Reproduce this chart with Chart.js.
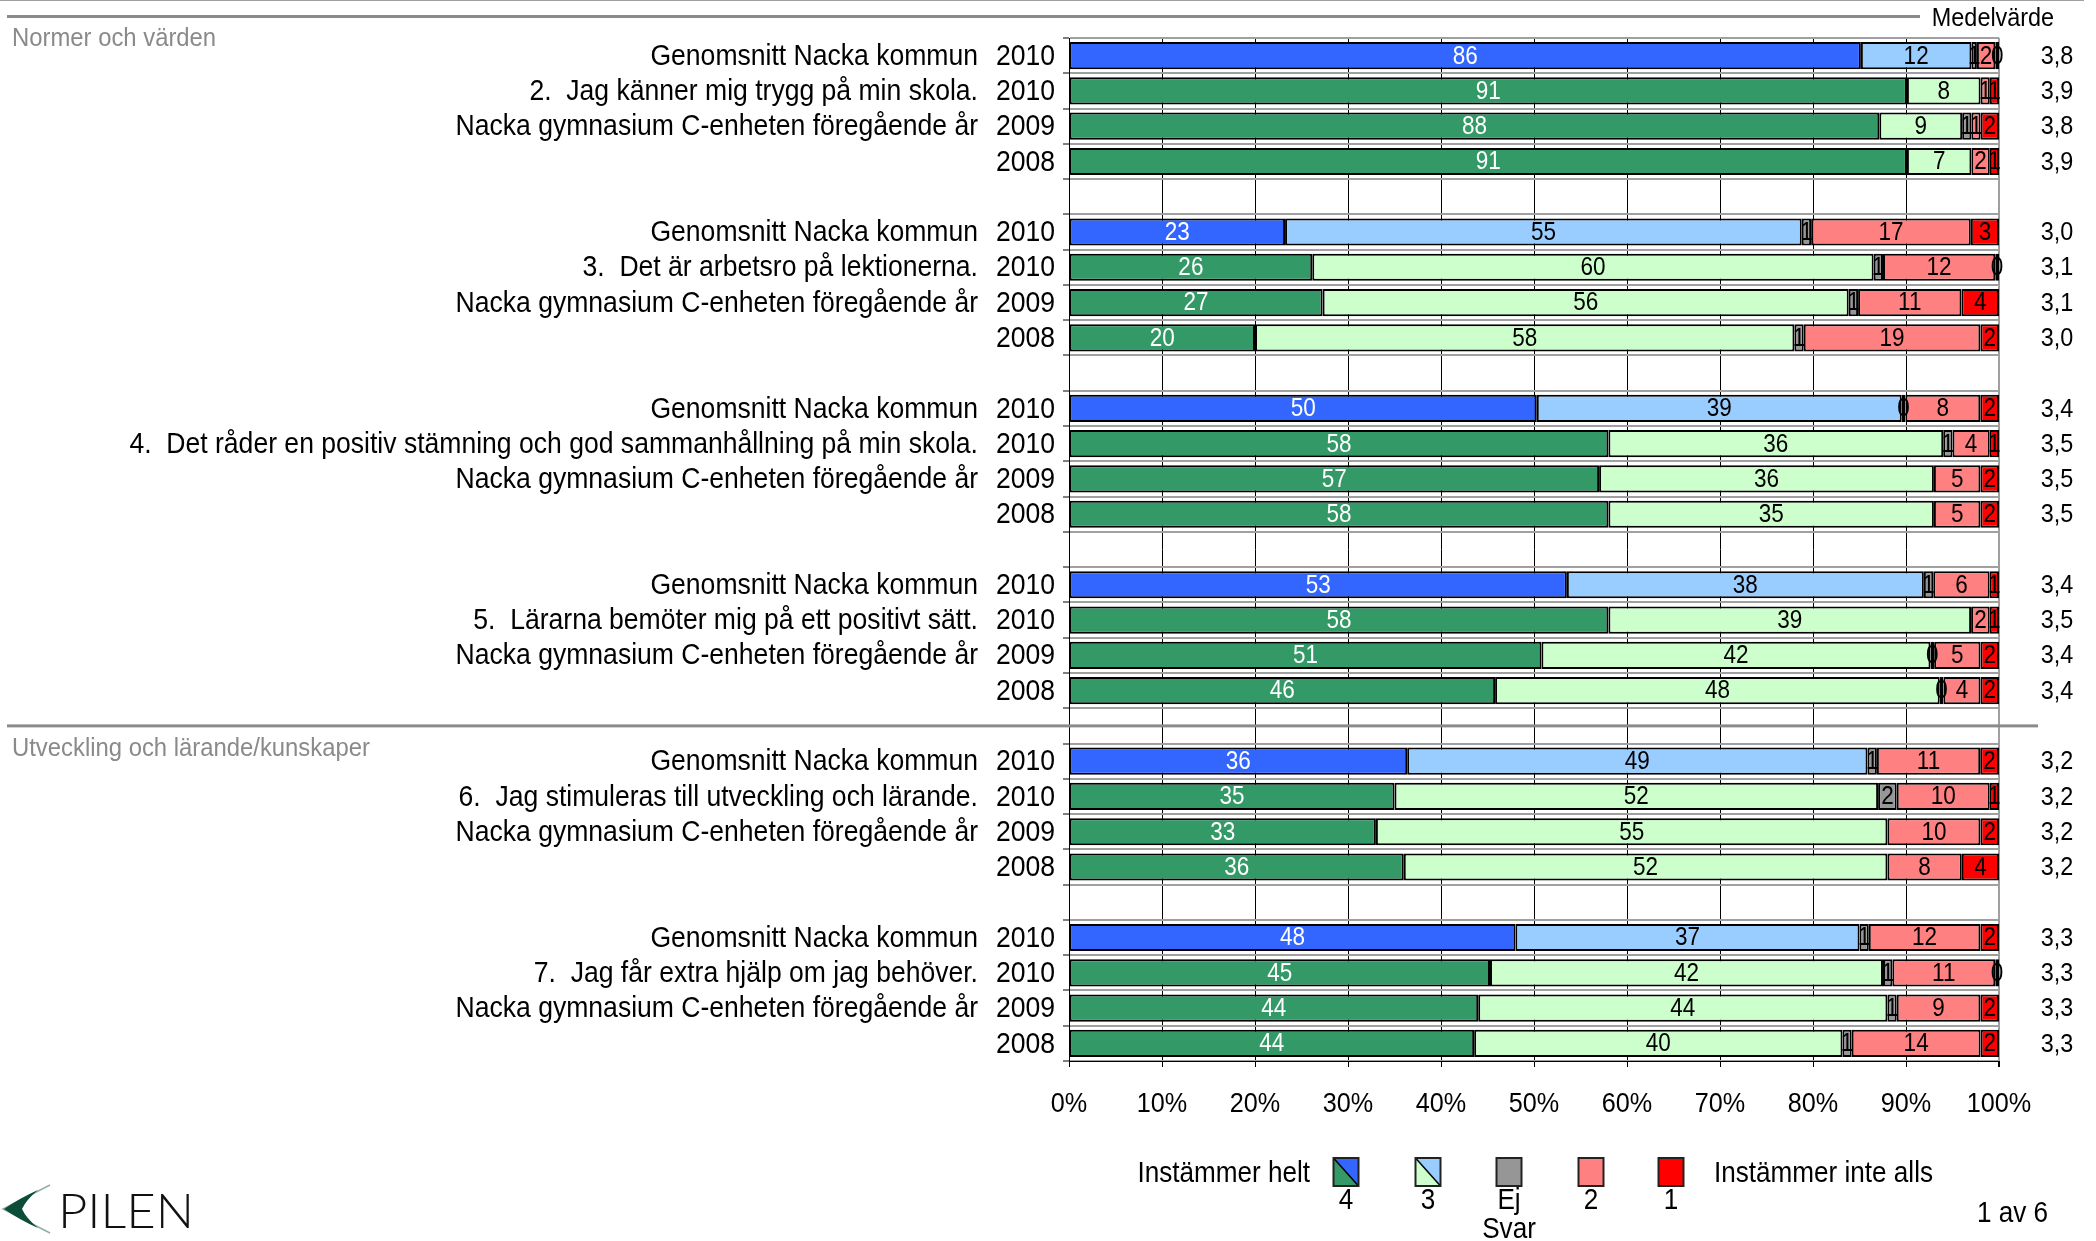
<!DOCTYPE html>
<html lang="sv">
<head>
<meta charset="utf-8">
<title>Normer och värden</title>
<script src="https://cdn.jsdelivr.net/npm/chart.js@4.4.1/dist/chart.umd.min.js"></script>
<style>
  html, body { margin: 0; padding: 0; background: #fff; }
  #wrap { width: 2096px; height: 1241px; overflow: hidden; }
</style>
</head>
<body>
<div id="wrap"><canvas id="chart" width="2096" height="1241"></canvas></div>
<script>
/* ---------------------------------------------------------------
   DATA (one entry per bar, groups of 4: kommun / 2010 / 2009 / 2008)
   --------------------------------------------------------------- */
const questions = [
  "2.  Jag känner mig trygg på min skola.",
  "3.  Det är arbetsro på lektionerna.",
  "4.  Det råder en positiv stämning och god sammanhållning på min skola.",
  "5.  Lärarna bemöter mig på ett positivt sätt.",
  "6.  Jag stimuleras till utveckling och lärande.",
  "7.  Jag får extra hjälp om jag behöver."
];
const rowNames = ["Genomsnitt Nacka kommun", "", "Nacka gymnasium C-enheten föregående år", ""];
const years = ["2010", "2010", "2009", "2008"];
const sectionTitles = ["Normer och värden", "Utveckling och lärande/kunskaper"];
const sectionStart = [0, 4];           // question index where each section starts

// % per answer (4 = instämmer helt ... 1 = instämmer inte alls), null = no bar
const helt     = [86, 91, 88, 91,  23, 26, 27, 20,  50, 58, 57, 58,  53, 58, 51, 46,  36, 35, 33, 36,  48, 45, 44, 44];
const tre      = [12,  8,  9,  7,  55, 60, 56, 58,  39, 36, 36, 35,  38, 39, 42, 48,  49, 52, 55, 52,  37, 42, 44, 40];
const ejSvar   = [0.6, null, 1, null, 1, 1, 1, 1,  0.4, 1, null, null, 1, null, 0.4, 0.4, 1, 2, null, null, 1, 1, 1, 1];
const tva      = [ 2,  1,  1,  2,  17, 12, 11, 19,   8,  4,  5,  5,   6,  2,  5,  4,  11, 10, 10,  8,  12, 11,  9, 14];
const inteAlls = [0.4, 1,  2,  1,   3, 0.4, 4,  2,   2,  1,  2,  2,   1,  1,  2,  2,   2,  1,  2,  4,   2, 0.4, 2,  2];
const medel    = [3.8, 3.9, 3.8, 3.9,  3.0, 3.1, 3.1, 3.0,  3.4, 3.5, 3.5, 3.5,  3.4, 3.5, 3.4, 3.4,  3.2, 3.2, 3.2, 3.2,  3.3, 3.3, 3.3, 3.3];
const xTicks   = [0, 10, 20, 30, 40, 50, 60, 70, 80, 90, 100];
const legendKeys = ["4", "3", "Ej", "2", "1"];

/* ---------------------------------------------------------------
   COLOURS / TEXT
   --------------------------------------------------------------- */
const C = {
  kommun4: "#3366FF", kommun3: "#99CCFF",
  skola4: "#339966",  skola3: "#CCFFCC",
  ej: "#969696", tva: "#FF8080", ett: "#FF0000"
};
const FONT = '"Liberation Sans", Arial, sans-serif';
const SX = 0.9;   // the original text is slightly condensed

function txt(ctx, s, x, y, size, align, color) {
  ctx.save();
  ctx.font = size + "px " + FONT;
  ctx.fillStyle = color || "#000";
  ctx.textAlign = align || "left";
  ctx.textBaseline = "middle";
  ctx.translate(x, y);
  ctx.scale(SX, 1);
  ctx.fillText(s, 0, 0);
  ctx.restore();
}

/* ---------------------------------------------------------------
   SLOTS: 4 bars per question + an empty slot between questions
   --------------------------------------------------------------- */
const rows = [];
questions.forEach((q, g) => {
  if (g > 0) rows.push(null);
  for (let r = 0; r < 4; r++) rows.push(g * 4 + r);
});
const catLabels = rows.map(i => (i === null ? "" : String(i)));
const series = [helt, tre, ejSvar, tva, inteAlls];

function rowTotal(i) {
  return series.reduce((s, arr) => s + (arr[i] || 0), 0);
}
function shares(arr) {
  return rows.map(i => (i === null || arr[i] === null ? null : arr[i] / rowTotal(i) * 100));
}
function colours(kommun, skola) {
  return rows.map(i => (i !== null && i % 4 === 0 ? kommun : skola));
}

const datasets = [
  { label: "4",  data: shares(helt),     backgroundColor: colours(C.kommun4, C.skola4) },
  { label: "3",  data: shares(tre),      backgroundColor: colours(C.kommun3, C.skola3) },
  { label: "Ej", data: shares(ejSvar),   backgroundColor: C.ej },
  { label: "2",  data: shares(tva),      backgroundColor: C.tva },
  { label: "1",  data: shares(inteAlls), backgroundColor: C.ett }
].map(ds => Object.assign(ds, {
  borderColor: "#000",
  borderWidth: 2,
  borderSkipped: false,
  barPercentage: 0.77,
  categoryPercentage: 1
}));

/* ---------------------------------------------------------------
   PAGE PLUGIN: labels, values, means, legend, header
   --------------------------------------------------------------- */
const pagePlugin = {
  id: "page",
  beforeDraw(chart) {
    const ctx = chart.ctx;
    ctx.save();
    ctx.fillStyle = "#fff";
    ctx.fillRect(0, 0, chart.width, chart.height);
    ctx.restore();
  },
  afterDraw(chart) {
    const ctx = chart.ctx;
    const a = chart.chartArea;
    const ys = chart.scales.y;
    const xs = chart.scales.x;

    // header rules
    ctx.save();
    ctx.fillStyle = "#a0a0a0";
    ctx.fillRect(0, 0, 2084, 1);
    ctx.fillStyle = "#8a8a8a";
    ctx.fillRect(7, 15, 1913, 3);
    ctx.restore();
    txt(ctx, "Medelvärde", 1993, 19, 26, "center");

    // section titles + separators
    sectionTitles.forEach((t, k) => {
      const g = sectionStart[k];
      let top = 16;
      if (g > 0) {
        top = ys.getPixelForValue(g * 5 - 1);
        ctx.save();
        ctx.fillStyle = "#8a8a8a";
        ctx.fillRect(7, top - 1.5, 2031, 3);
        ctx.restore();
      }
      txt(ctx, t, 12, top + 23, 26.5, "left", "#8a8a8a");
    });

    // row labels, years and means
    rows.forEach((i, s) => {
      if (i === null) return;
      const y = ys.getPixelForValue(s) + 1;
      const r = i % 4;
      const name = r === 1 ? questions[Math.floor(i / 4)] : rowNames[r];
      if (name) txt(ctx, name, a.left - 91, y, 29.5, "right");
      txt(ctx, years[r], a.left - 14, y, 29.5, "right");
      txt(ctx, medel[i].toFixed(1).replace(".", ","), a.right + 58, y, 26, "center");
    });

    // x tick labels
    xTicks.forEach(v => txt(ctx, v + "%", xs.getPixelForValue(v), 1104, 28, "center"));

    // values inside the bars
    series.forEach((arr, d) => {
      const meta = chart.getDatasetMeta(d);
      meta.data.forEach((el, s) => {
        const i = rows[s];
        if (i === null || arr[i] === null) return;
        const p = el.getProps(["x", "y", "base"], true);
        txt(ctx, String(Math.round(arr[i])), (p.x + p.base) / 2, p.y + 1, 25, "center", d === 0 ? "#fff" : "#000");
      });
    });

    // legend
    txt(ctx, "Instämmer helt", 1310, 1174, 29, "right");
    txt(ctx, "Instämmer inte alls", 1714, 1174, 29, "left");
    const sw = [1346, 1428, 1509, 1591, 1671];
    const fills = [[C.skola4, C.kommun4], [C.skola3, C.kommun3], [C.ej], [C.tva], [C.ett]];
    sw.forEach((cx, k) => {
      const x0 = cx - 12.5, y0 = 1158, w = 25, h = 28;
      ctx.save();
      if (fills[k].length === 2) {
        ctx.fillStyle = fills[k][0];
        ctx.beginPath(); ctx.moveTo(x0, y0); ctx.lineTo(x0 + w, y0 + h); ctx.lineTo(x0, y0 + h); ctx.closePath(); ctx.fill();
        ctx.fillStyle = fills[k][1];
        ctx.beginPath(); ctx.moveTo(x0, y0); ctx.lineTo(x0 + w, y0); ctx.lineTo(x0 + w, y0 + h); ctx.closePath(); ctx.fill();
        ctx.strokeStyle = "#000"; ctx.lineWidth = 1.5;
        ctx.beginPath(); ctx.moveTo(x0, y0); ctx.lineTo(x0 + w, y0 + h); ctx.stroke();
      } else {
        ctx.fillStyle = fills[k][0];
        ctx.fillRect(x0, y0, w, h);
      }
      ctx.strokeStyle = "#222"; ctx.lineWidth = 2;
      ctx.strokeRect(x0, y0, w, h);
      ctx.restore();
      txt(ctx, legendKeys[k], cx, 1201, 29, "center");
    });
    txt(ctx, "Svar", sw[2], 1230, 29, "center");
    txt(ctx, "1 av 6", 1977, 1214, 29, "left");

    // PILEN logo
    ctx.save();
    ctx.strokeStyle = "rgba(11,77,56,0.45)";
    ctx.lineWidth = 1.5;
    ctx.beginPath(); ctx.moveTo(50, 1185); ctx.lineTo(3, 1209); ctx.lineTo(50, 1233); ctx.stroke();
    ctx.fillStyle = "#0b4d38";
    ctx.beginPath();
    ctx.moveTo(4, 1209);
    ctx.quadraticCurveTo(20, 1198, 38, 1190);
    ctx.quadraticCurveTo(26, 1200, 22, 1209);
    ctx.quadraticCurveTo(26, 1218, 38, 1228);
    ctx.quadraticCurveTo(20, 1220, 4, 1209);
    ctx.closePath();
    ctx.fill();
    ctx.font = "300 48px Lato, " + FONT;
    ctx.fillStyle = "#111";
    ctx.textBaseline = "alphabetic";
    const w = ctx.measureText("PILEN").width;
    ctx.translate(58, 1228);
    ctx.scale(136 / w, 1);
    ctx.fillText("PILEN", 0, 0);
    ctx.restore();
  }
};

/* ---------------------------------------------------------------
   CHART
   --------------------------------------------------------------- */
new Chart(document.getElementById("chart").getContext("2d"), {
  type: "bar",
  data: { labels: catLabels, datasets },
  options: {
    indexAxis: "y",
    responsive: false,
    animation: false,
    devicePixelRatio: 1,
    layout: { padding: { top: 38, right: 97, bottom: 0, left: 0 } },
    plugins: { legend: { display: false }, tooltip: { enabled: false } },
    scales: {
      x: {
        stacked: true,
        min: 0,
        max: 100,
        ticks: { display: false, stepSize: 10 },
        grid: {
          color: c => (c.tick && c.tick.value === 100 ? "#a0a0a0" : "#000"),
          lineWidth: c => (c.tick && c.tick.value === 100 ? 2 : 1),
          tickColor: "#000",
          tickLength: 6
        },
        border: { color: "#000", width: 1 },
        afterFit: s => { s.height = 180; }
      },
      y: {
        stacked: true,
        ticks: { display: false },
        grid: { color: "#a0a0a0", lineWidth: 2, tickColor: "#000", tickWidth: 1, tickLength: 6 },
        border: { color: "#000", width: 1 },
        afterFit: s => { s.width = 1069; }
      }
    }
  },
  plugins: [pagePlugin]
});
</script>
</body>
</html>
